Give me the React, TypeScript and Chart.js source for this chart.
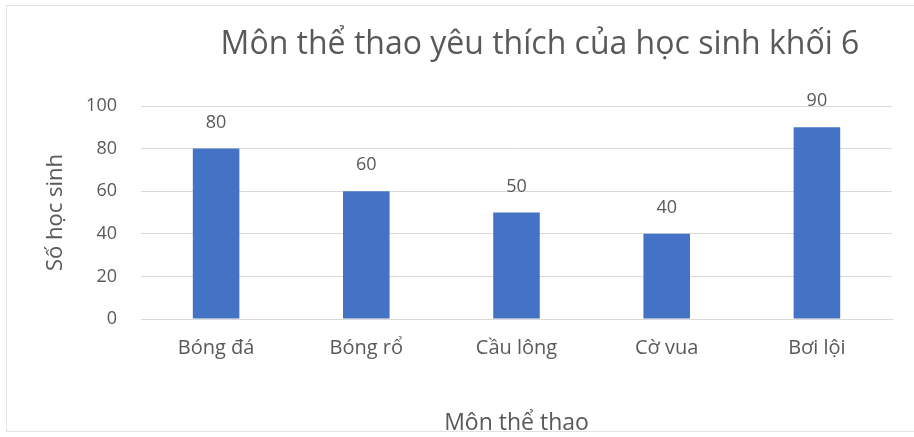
import React, { useEffect, useRef } from "react";
import { Chart, registerables } from "chart.js";

Chart.register(...registerables);

const categories = ["Bóng đá", "Bóng rổ", "Cầu lông", "Cờ vua", "Bơi lội"];
const studentCounts = [80, 60, 50, 40, 90];
const chartTitle = "Môn thể thao yêu thích của học sinh khối 6";
const xAxisTitle = "Môn thể thao";
const yAxisTitle = "Số học sinh";
const yMin = 0;
const yMax = 100;
const yStep = 20;

const FONT = "'Open Sans', 'Noto Sans', sans-serif";
const TEXT = "#595959";

const labelsPlugin = {
  id: "barValueLabels",
  afterDatasetsDraw(chart: any) {
    const { ctx } = chart;
    const meta = chart.getDatasetMeta(0);
    ctx.save();
    ctx.font = `18px ${FONT}`;
    ctx.fillStyle = TEXT;
    ctx.textAlign = "center";
    ctx.textBaseline = "middle";
    meta.data.forEach((bar: any, i: number) => {
      const v = chart.data.datasets[0].data[i];
      ctx.fillText(String(v), bar.x, bar.y - 26);
    });
    ctx.restore();
  },
};

const titlePlugin = {
  id: "customTitle",
  afterDraw(chart: any) {
    const { ctx } = chart;
    ctx.save();
    ctx.font = `32px ${FONT}`;
    ctx.fillStyle = TEXT;
    ctx.textAlign = "center";
    ctx.textBaseline = "middle";
    ctx.fillText(chartTitle, 540, 45);
    ctx.restore();
  },
};

export default function App() {
  const ref = useRef<HTMLCanvasElement | null>(null);
  useEffect(() => {
    if (!ref.current) return;
    const chart = new Chart(ref.current, {
      type: "bar",
      data: {
        labels: categories,
        datasets: [
          {
            data: studentCounts,
            backgroundColor: "#4472C4",
            borderWidth: 0,
            categoryPercentage: 1,
            barPercentage: 0.31,
          },
        ],
      },
      options: {
        animation: false,
        responsive: true,
        maintainAspectRatio: false,
        layout: { padding: { top: 106, right: 22, left: 0, bottom: 0 } },
        plugins: {
          legend: { display: false },
          tooltip: { enabled: false },
          title: { display: false },
        },
        scales: {
          x: {
            grid: { display: false, drawTicks: false },
            border: { display: true, color: "#d9d9d9", width: 1 },
            ticks: {
              color: TEXT,
              font: { family: FONT, size: 20 },
              padding: 17,
            },
            title: {
              display: true,
              text: xAxisTitle,
              color: TEXT,
              font: { family: FONT, size: 23 },
              padding: { top: 8, bottom: 0 },
            },
            afterFit(scale: any) {
              scale.height = 118;
            },
          },
          y: {
            min: yMin,
            max: yMax,
            grid: { color: "#d9d9d9", lineWidth: 1, drawTicks: false },
            border: { display: false },
            ticks: {
              stepSize: yStep,
              color: TEXT,
              font: { family: FONT, size: 18 },
              padding: 24,
            },
            title: {
              display: true,
              text: yAxisTitle,
              color: TEXT,
              font: { family: FONT, size: 22 },
              padding: { top: 43, bottom: 0 },
            },
            afterFit(scale: any) {
              scale.width = 141;
            },
          },
        },
      },
      plugins: [labelsPlugin, titlePlugin],
    });
    return () => chart.destroy();
  }, []);

  return (
    <div
      style={{
        position: "absolute",
        left: 0,
        top: 0,
        width: 914,
        height: 437,
        background: "#ffffff",
      }}
    >
      <div
        style={{
          position: "absolute",
          left: 6,
          top: 5,
          width: 920,
          height: 427,
          border: "1px solid #e2e2e2",
          boxSizing: "border-box",
        }}
      />
      <canvas ref={ref} style={{ position: "absolute", left: 0, top: 0 }} width={914} height={437} />
    </div>
  );
}
